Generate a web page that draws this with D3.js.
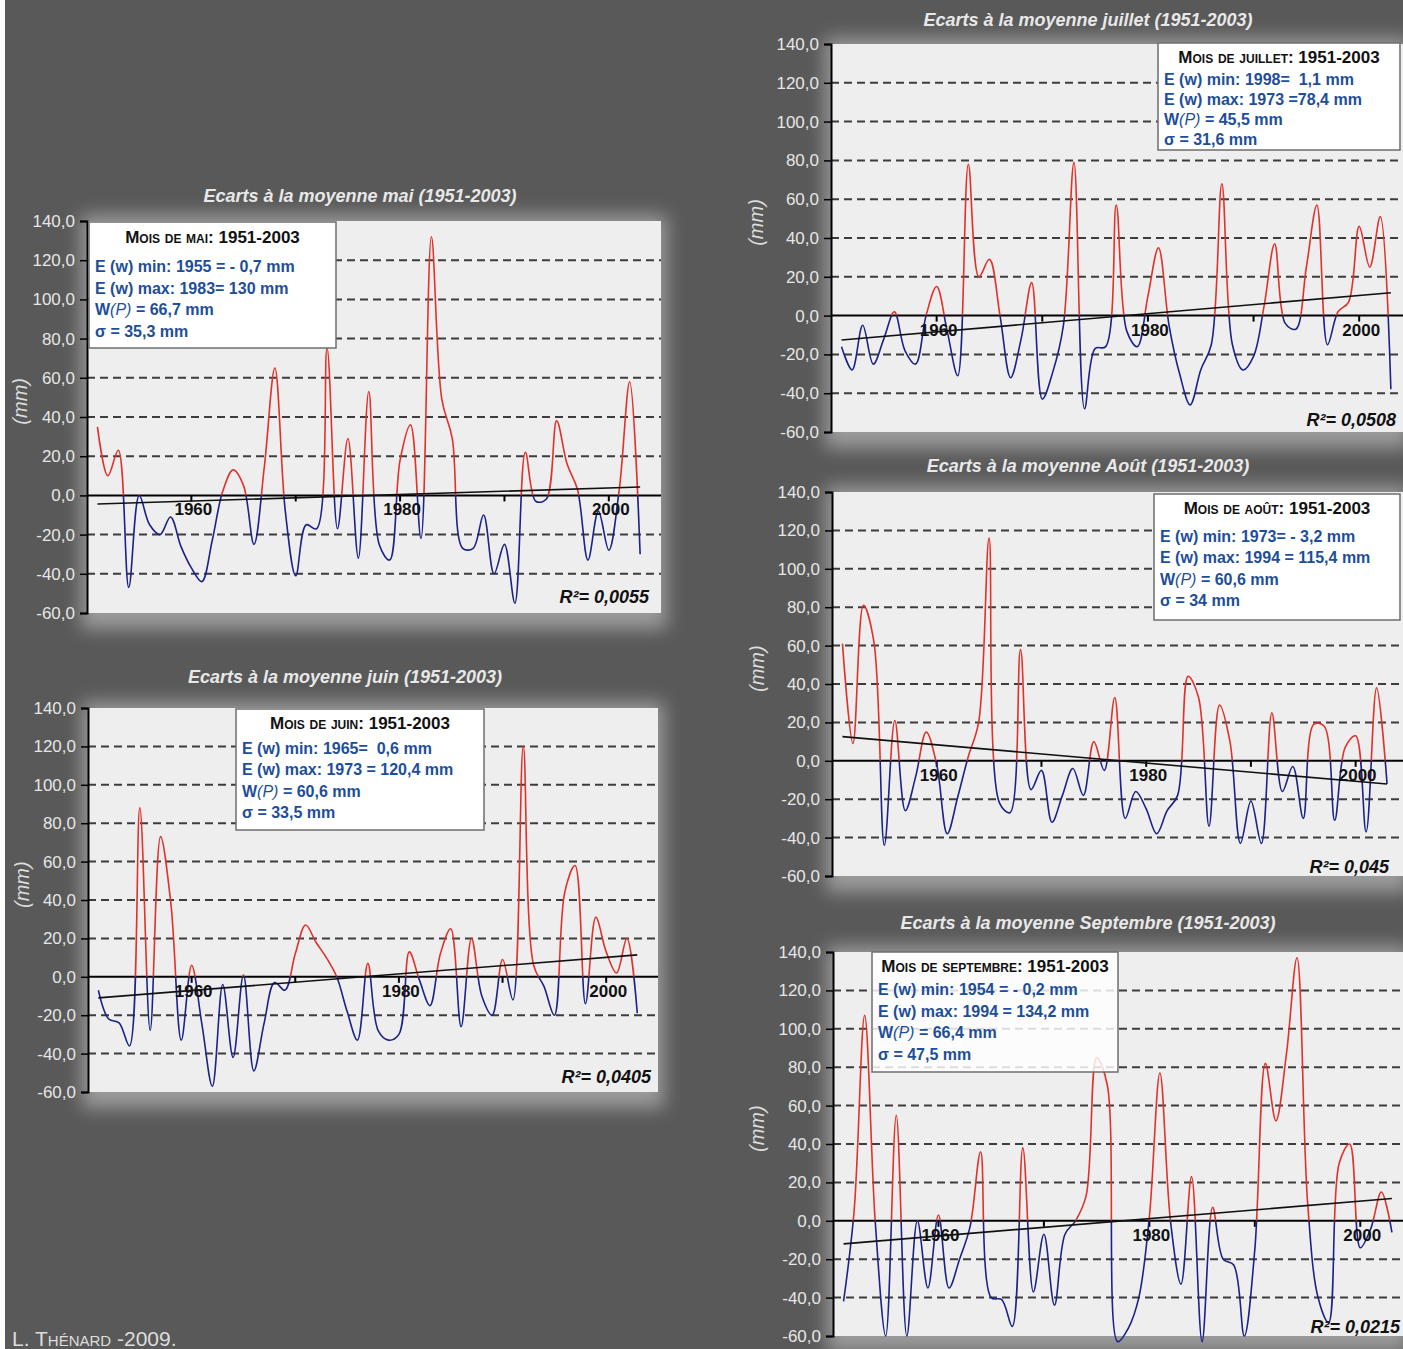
<!DOCTYPE html>
<html>
<head>
<meta charset="utf-8">
<script src="https://cdn.jsdelivr.net/npm/d3@7"></script>
<style>
  body { margin: 0; background: #595959; }
  svg { display: block; }
  text { font-family: "Liberation Sans", Arial, sans-serif; }
</style>
</head>
<body>
<svg id="chart" width="1403" height="1349"></svg>
<script>
// data (mm, deviation from the monthly mean)
const years = [1951, 1952, 1953, 1954, 1955, 1956, 1957, 1958, 1959, 1960,
  1961, 1962, 1963, 1964, 1965, 1966, 1967, 1968, 1969, 1970,
  1971, 1972, 1973, 1974, 1975, 1976, 1977, 1978, 1979, 1980,
  1981, 1982, 1983, 1984, 1985, 1986, 1987, 1988, 1989, 1990,
  1991, 1992, 1993, 1994, 1995, 1996, 1997, 1998, 1999, 2000,
  2001, 2002, 2003];

const ecartsMai = [35, 10, 23, -47, 0, -15, -20, -11, -26, -37,
  -44, -23, 2, 13, 5, -25, 15, 65, -8, -41,
  -15, -17, 75, -17, 29, -32, 53, -25, -33, 18,
  36, -22, 132, 49, 29, -27, -27, -10, -40, -25,
  -55, 22, -3, -2, 38, 16, 3, -33, -8, -28,
  3, 58, -30];
const ecartsJuin = [-7, -22, -24, -36, 88, -28, 73, 38, -33, 6,
  -25, -57, -4, -42, 1, -49, -24, -3, -7, 12,
  27, 18, 10, 0, -18, -33, 7, -28, -33, -30,
  13, -2, -15, 12, 25, -26, 20, -10, -20, 9,
  -12, 120, 6, -5, -20, 44, 58, -14, 31, 13,
  2, 20, -19];
const ecartsJuillet = [-16, -28, -5, -25, -12, 2, -18, -25, 0, 15,
  -8, -31, 78, 20, 29, 0, -32, -12, 17, -43,
  -29, -5, 79, -48, -17, -16, 57, -8, -16, 10,
  35, -5, -30, -46, -28, -15, 68, -15, -28, -21,
  5, 37, -4, -7, 25, 57, -15, 2, 7, 46,
  25, 51, -38];
const ecartsAout = [61, 9, 81, 62, -44, 21, -26, -8, 15, -2,
  -38, -19, 2, 20, 116, -22, -27, 58, -15, -5,
  -32, -18, -4, -18, 10, -5, 33, -30, -16, -25,
  -38, -26, -18, 44, 33, -34, 29, 10, -43, -21,
  -43, 25, -16, -3, -30, 19, 18, -31, 7, 13,
  -37, 38, -12];
const ecartsSeptembre = [-42, 5, 107, 0, -60, 55, -60, 0, -35, 3,
  -35, -20, -3, 36, -40, -41, -55, 38, -37, -7,
  -44, -7, 0, 13, 85, 71, -63, -56, -40, 2,
  77, 0, -33, 23, -63, 7, -20, -23, -60, -15,
  82, 52, 87, 137, 10, -40, -53, 30, 40, -14,
  -4, 15, -6];

// linear trend, value at 1951 and at 2003
const trendMai = [-4.4, 4.3];
const trendJuin = [-11, 11.4];
const trendJuillet = [-12.6, 11.8];
const trendAout = [12.6, -12.1];
const trendSeptembre = [-12, 11.6];

const yTicks = [-60, -40, -20, 0, 20, 40, 60, 80, 100, 120, 140];
const yearTicks = [1960, 1970, 1980, 1990, 2000];
const yearLabels = [1960, 1980, 2000];

const titles = ["Ecarts à la moyenne mai (1951-2003)",
  "Ecarts à la moyenne juin (1951-2003)",
  "Ecarts à la moyenne juillet (1951-2003)",
  "Ecarts à la moyenne Août (1951-2003)",
  "Ecarts à la moyenne Septembre (1951-2003)"];
const r2Labels = ["R²= 0,0055", "R²= 0,0405", "R²= 0,0508", "R²= 0,045", "R²= 0,0215"];

const boxMai = ["Mois de mai: 1951-2003", "E (w) min: 1955 = - 0,7 mm", "E (w) max: 1983= 130 mm", "W(P) = 66,7 mm", "σ = 35,3 mm"];
const boxJuin = ["Mois de juin: 1951-2003", "E (w) min: 1965=  0,6 mm", "E (w) max: 1973 = 120,4 mm", "W(P) = 60,6 mm", "σ = 33,5 mm"];
const boxJuillet = ["Mois de juillet: 1951-2003", "E (w) min: 1998=  1,1 mm", "E (w) max: 1973 =78,4 mm", "W(P) = 45,5 mm", "σ = 31,6 mm"];
const boxAout = ["Mois de août: 1951-2003", "E (w) min: 1973= - 3,2 mm", "E (w) max: 1994 = 115,4 mm", "W(P) = 60,6 mm", "σ = 34 mm"];
const boxSeptembre = ["Mois de septembre: 1951-2003", "E (w) min: 1954 = - 0,2 mm", "E (w) max: 1994 = 134,2 mm", "W(P) = 66,4 mm", "σ = 47,5 mm"];

// layout of the 5 panels
const panels = [
  { values: ecartsMai, trend: trendMai, box: boxMai, title: titles[0], r2: r2Labels[0],
    left: 87, right: 661, top: 221, bottom: 613, titleX: 360, titleY: 202, mmX: 20, r2X: 649, r2Y: 603,
    bx: 89, by: 222, bw: 247, bh: 126, tDy: 21, lDy: 50, lStep: 21.7, boxOpacity: 1 },
  { values: ecartsJuin, trend: trendJuin, box: boxJuin, title: titles[1], r2: r2Labels[1],
    left: 88, right: 658, top: 708, bottom: 1092, titleX: 345, titleY: 683, mmX: 22, r2X: 651, r2Y: 1083,
    bx: 236, by: 709, bw: 248, bh: 121, tDy: 20, lDy: 45, lStep: 21.3, boxOpacity: 1 },
  { values: ecartsJuillet, trend: trendJuillet, box: boxJuillet, title: titles[2], r2: r2Labels[2],
    left: 831, right: 1412, top: 44, bottom: 432, titleX: 1088, titleY: 26, mmX: 756, r2X: 1396, r2Y: 426,
    bx: 1158, by: 43, bw: 242, bh: 107, tDy: 20, lDy: 42, lStep: 20, boxOpacity: 1 },
  { values: ecartsAout, trend: trendAout, box: boxAout, title: titles[3], r2: r2Labels[3],
    left: 832, right: 1408, top: 492, bottom: 876, titleX: 1088, titleY: 472, mmX: 757, r2X: 1389, r2Y: 873,
    bx: 1154, by: 494, bw: 246, bh: 126, tDy: 20, lDy: 48, lStep: 21.3, boxOpacity: 1 },
  { values: ecartsSeptembre, trend: trendSeptembre, box: boxSeptembre, title: titles[4], r2: r2Labels[4],
    left: 833, right: 1413, top: 952, bottom: 1336, titleX: 1088, titleY: 929, mmX: 757, r2X: 1400, r2Y: 1333,
    bx: 872, by: 952, bw: 246, bh: 120, tDy: 20, lDy: 43, lStep: 21.6, boxOpacity: 0.82 }
];

const W = 1403, H = 1349;
const svg = d3.select("#chart");

const defs = svg.append("defs");
defs.append("filter").attr("id", "glow")
  .attr("x", "-20%").attr("y", "-20%").attr("width", "140%").attr("height", "140%")
  .append("feGaussianBlur").attr("stdDeviation", 9);

// background + white strip on the left
svg.append("rect").attr("width", W).attr("height", H).attr("fill", "#595959");
svg.append("rect").attr("width", 5).attr("height", H).attr("fill", "#ffffff");

const red = "#e2302a", blue = "#1b2288";

panels.forEach(drawPanel);

// footer
svg.append("text")
  .attr("x", 12).attr("y", 1346)
  .attr("fill", "#dddddd")
  .style("font-size", "21px")
  .style("font-variant", "small-caps")
  .text("L. Thénard -2009.");

function drawPanel(p, i) {
  let x = d3.scaleLinear().domain([1950, 2005]).range([p.left, p.right]);
  let y = d3.scaleLinear().domain([-60, 140]).range([p.bottom, p.top]);
  let plotRight = Math.min(p.right, W);
  let g = svg.append("g");

  // white glow round the plot area
  g.append("rect")
    .attr("x", p.left - 6).attr("y", p.top - 6)
    .attr("width", plotRight - p.left + 12).attr("height", p.bottom - p.top + 22)
    .attr("fill", "#ffffff").attr("opacity", 0.4)
    .attr("filter", "url(#glow)");

  g.append("rect")
    .attr("x", p.left).attr("y", p.top)
    .attr("width", plotRight - p.left).attr("height", p.bottom - p.top)
    .attr("fill", "#eeeeee");

  // dashed grid
  g.selectAll(".grid")
    .data(yTicks.filter(d => d != 0 && d != 140 && d != -60))
    .enter().append("line")
    .attr("x1", p.left).attr("x2", plotRight)
    .attr("y1", d => y(d)).attr("y2", d => y(d))
    .attr("stroke", "#3d3d3d").attr("stroke-width", 2)
    .attr("stroke-dasharray", "8,5");

  // y axis
  let axis = d3.axisLeft(y)
    .tickValues(yTicks)
    .tickSize(7)
    .tickPadding(5)
    .tickFormat(d => d3.format(".1f")(d).replace(".", ",").replace("−", "-"));
  let ax = g.append("g")
    .attr("transform", "translate(" + p.left + ",0)")
    .call(axis);
  ax.select(".domain").attr("stroke", "#000").attr("stroke-width", 2);
  ax.selectAll(".tick line").attr("stroke", "#000").attr("stroke-width", 1.5);
  ax.selectAll(".tick text")
    .attr("fill", "#e6e6e6")
    .style("font-size", "17px")
    .style("font-family", "'Liberation Sans', Arial, sans-serif");

  // zero line
  g.append("line")
    .attr("x1", p.left).attr("x2", plotRight)
    .attr("y1", y(0)).attr("y2", y(0))
    .attr("stroke", "#000").attr("stroke-width", 2);

  // x ticks on the zero line
  g.selectAll(".xtick")
    .data(yearTicks)
    .enter().append("line")
    .attr("x1", d => x(d)).attr("x2", d => x(d))
    .attr("y1", y(0)).attr("y2", y(0) + 6)
    .attr("stroke", "#000").attr("stroke-width", 2);

  // clip paths, red above 0 and blue below
  defs.append("clipPath").attr("id", "up" + i)
    .append("rect")
    .attr("x", p.left).attr("y", p.top - 20)
    .attr("width", plotRight - p.left).attr("height", y(0) - p.top + 20);
  defs.append("clipPath").attr("id", "down" + i)
    .append("rect")
    .attr("x", p.left).attr("y", y(0))
    .attr("width", plotRight - p.left).attr("height", p.bottom - y(0) + 20);

  let points = years.map((yr, k) => ({ year: yr, value: p.values[k] }));
  let line = d3.line()
    .x(d => x(d.year))
    .y(d => y(d.value))
    .curve(d3.curveCatmullRom.alpha(0.5));

  g.append("path").datum(points)
    .attr("d", line)
    .attr("fill", "none").attr("stroke", red).attr("stroke-width", 1.6)
    .attr("clip-path", "url(#up" + i + ")");
  g.append("path").datum(points)
    .attr("d", line)
    .attr("fill", "none").attr("stroke", blue).attr("stroke-width", 1.6)
    .attr("clip-path", "url(#down" + i + ")");

  // trend line
  g.append("line")
    .attr("x1", x(years[0])).attr("y1", y(p.trend[0]))
    .attr("x2", x(years[years.length - 1])).attr("y2", y(p.trend[1]))
    .attr("stroke", "#111").attr("stroke-width", 1.6);

  // year labels
  g.selectAll(".ylab")
    .data(yearLabels)
    .enter().append("text")
    .attr("x", d => x(d) + 2).attr("y", y(0) + 20)
    .attr("text-anchor", "middle")
    .attr("fill", "#111")
    .style("font-size", "17px").style("font-weight", "bold")
    .text(d => d);

  // info box
  let box = g.append("g");
  box.append("rect")
    .attr("x", p.bx).attr("y", p.by)
    .attr("width", p.bw).attr("height", p.bh)
    .attr("fill", "#ffffff").attr("fill-opacity", p.boxOpacity)
    .attr("stroke", "#6e6e6e").attr("stroke-width", 1.5);
  box.append("text")
    .attr("x", p.bx + p.bw / 2).attr("y", p.by + p.tDy)
    .attr("text-anchor", "middle")
    .attr("fill", "#111")
    .style("font-size", "17px").style("font-weight", "bold")
    .style("font-variant", "small-caps")
    .text(p.box[0]);
  p.box.slice(1).forEach((s, k) => {
    let t = box.append("text")
      .attr("x", p.bx + 6).attr("y", p.by + p.lDy + k * p.lStep)
      .attr("fill", "#1d4e9a")
      .style("font-size", "16px").style("font-weight", "bold")
      .style("white-space", "pre");
    if (s.indexOf("(P)") >= 0) {
      let parts = s.split("(P)");
      t.append("tspan").text(parts[0]);
      t.append("tspan").style("font-style", "italic").style("font-weight", "normal").text("(P)");
      t.append("tspan").text(parts[1]);
    } else {
      t.text(s);
    }
  });

  // R²
  g.append("text")
    .attr("x", p.r2X).attr("y", p.r2Y)
    .attr("text-anchor", "end")
    .attr("fill", "#111")
    .style("font-size", "18px").style("font-weight", "bold").style("font-style", "italic")
    .text(p.r2);

  // (mm)
  g.append("text")
    .attr("transform", "translate(" + (p.mmX + 7) + "," + y(48) + ") rotate(-90)")
    .attr("text-anchor", "middle")
    .attr("fill", "#dddddd")
    .style("font-size", "20px").style("font-style", "italic")
    .text("(mm)");

  // title
  g.append("text")
    .attr("x", p.titleX).attr("y", p.titleY)
    .attr("text-anchor", "middle")
    .attr("fill", "#e8e8e8")
    .style("font-size", "18px").style("font-weight", "bold").style("font-style", "italic")
    .text(p.title);
}
</script>
</body>
</html>
